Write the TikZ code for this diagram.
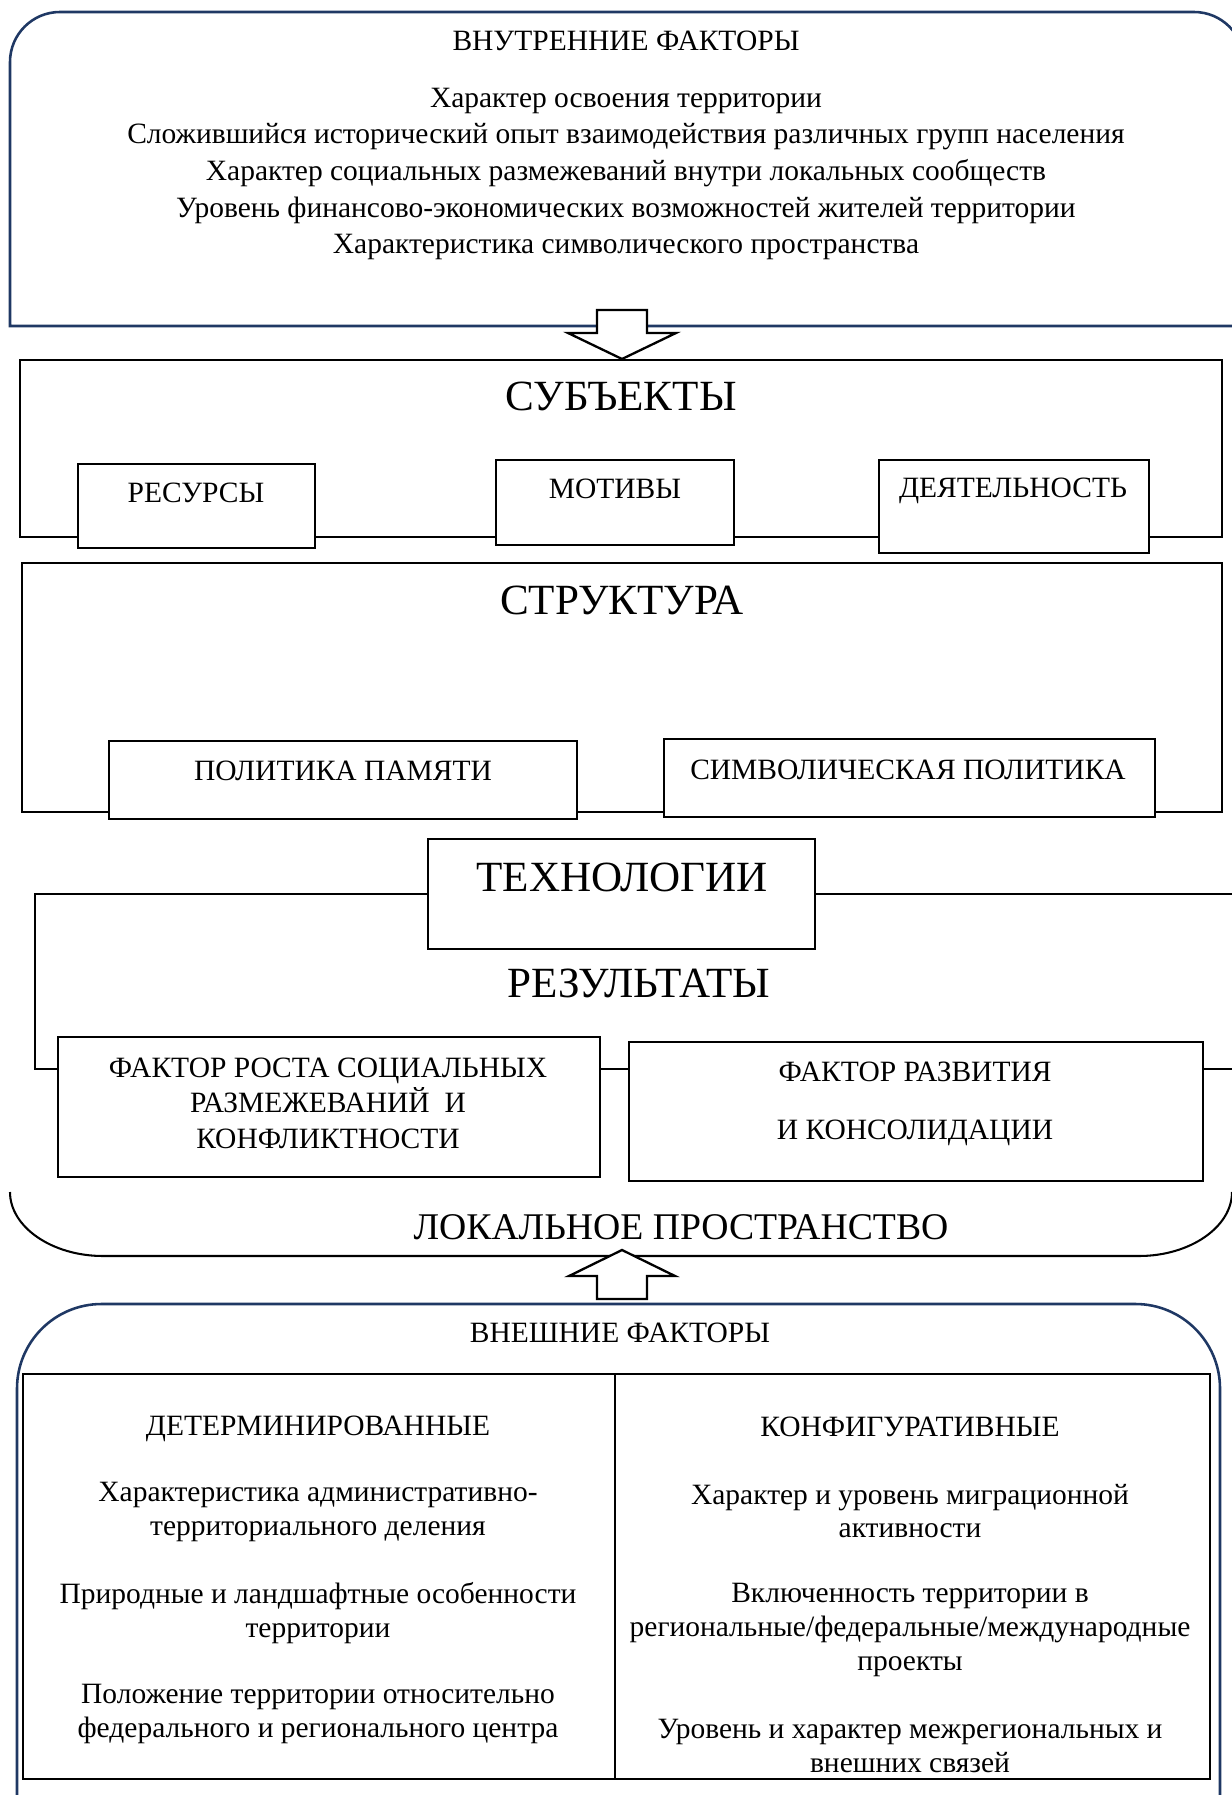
\documentclass[tikz,border=0pt]{standalone}
\usepackage{fontspec}
\setmainfont{Liberation Serif}
\usetikzlibrary{positioning,fit}
\definecolor{navy}{RGB}{31,56,100}

\begin{document}
\begin{tikzpicture}[x=0.39pt, y=-0.39pt,
    frame/.style={draw, line width=1pt, inner sep=0pt},
    box/.style={draw, line width=1pt, fill=white, inner sep=0pt},
    outer/.style={draw=navy, line width=1pt},
    txt/.style={font=\fontsize{11.5}{13.1}\selectfont, align=center, inner sep=0pt},
    toptxt/.style={font=\fontsize{11.5}{14.3}\selectfont, align=center, inner sep=0pt},
    head/.style={font=\fontsize{16.8}{19}\selectfont, inner sep=0pt},
    blockarrow/.style={draw, line width=0.9pt, fill=white, line join=miter}]
    \useasboundingbox (0,0) rectangle (1232,1795);

    % Internal factors
    \draw[outer] (10,326) [rounded corners=19.5pt] -- (10,12) -- (1244,12) [sharp corners] -- (1244,326) -- cycle;
    \node[toptxt] (intitle) at (626,41) {ВНУТРЕННИЕ ФАКТОРЫ};
    \node[toptxt] (inlist) at (626,174) {Характер освоения территории\\
        Сложившийся исторический опыт взаимодействия различных групп населения\\
        Характер социальных размежеваний внутри локальных сообществ\\
        Уровень финансово-экономических возможностей жителей территории\\
        Характеристика символического пространства};

    % Subjects
    \node[frame, fit={(20,360) (1222,537)}] (subj) {};
    \node[head] (subjt) at (621,396) {СУБЪЕКТЫ};
    \node[box, fit={(78,464) (315,548)}] (resbox) {};
    \node[txt] (res) at (196,493) {РЕСУРСЫ};
    \node[box, fit={(496,460) (734,545)}] (motbox) {};
    \node[txt] (mot) at (615,489) {МОТИВЫ};
    \node[box, fit={(879,460) (1149,553)}] (actbox) {};
    \node[txt] (act) at (1013,491) {ДЕЯТЕЛЬНОСТЬ};

    % Arrow in
    \coordinate (intip) at (622,359);
    \draw[blockarrow] (intip) -- ++(-54,-26) -- ++(29,0) -- ++(0,-23) -- ++(50,0) -- ++(0,23) -- ++(29,0) -- cycle;

    % Structure
    \node[frame, fit={(22,563) (1222,812)}] (struct) {};
    \node[head] (structt) at (622,600) {СТРУКТУРА};
    \node[box, fit={(109,741) (577,819)}] (membox) {};
    \node[txt] (mem) at (343,771) {ПОЛИТИКА ПАМЯТИ};
    \node[box, fit={(664,739) (1155,817)}] (symbox) {};
    \node[txt] (sym) at (908,770) {СИМВОЛИЧЕСКАЯ ПОЛИТИКА};

    % Technologies and results
    \node[frame, fit={(35,894) (1250,1069)}] (result) {};
    \node[box, fit={(428,839) (815,949)}] (techbox) {};
    \node[head] (tech) at (622,877) {ТЕХНОЛОГИИ};
    \node[head] (resultt) at (639,983) {РЕЗУЛЬТАТЫ};
    \node[box, fit={(58,1037) (600,1177)}] (confbox) {};
    \node[txt, font=\fontsize{11.5}{13.85}\selectfont] (conf) at (328,1103) {ФАКТОР РОСТА СОЦИАЛЬНЫХ\\
        РАЗМЕЖЕВАНИЙ\ \ И\\ КОНФЛИКТНОСТИ};
    \node[box, fit={(629,1042) (1203,1181)}] (consbox) {};
    \node[txt] (cons) at (915,1104) {ФАКТОР РАЗВИТИЯ\\[9.6pt] И КОНСОЛИДАЦИИ};

    % Local space
    \draw[line width=0.8pt] (10,1192) .. controls (10,1227) and (52,1256) .. (103,1256)
        -- (1139,1256) .. controls (1190,1256) and (1232,1227) .. (1232,1192);
    \node[font=\fontsize{14.7}{16}\selectfont, inner sep=0pt] (local) at (681,1227) {ЛОКАЛЬНОЕ ПРОСТРАНСТВО};

    % Arrow out
    \coordinate (outtip) at (622,1250);
    \draw[blockarrow] (outtip) -- ++(-53,26) -- ++(28,0) -- ++(0,23) -- ++(50,0) -- ++(0,-23) -- ++(28,0) -- cycle;

    % External factors
    \draw[outer, rounded corners=33pt] (17,1830) |- (1220,1304) -- (1220,1830);
    \node[txt] (extitle) at (620,1333) {ВНЕШНИЕ ФАКТОРЫ};
    \node[frame, line width=1.1pt, fit={(23,1374) (1210,1779)}] (tbl) {};
    \coordinate (mid) at (615,1374);
    \draw[line width=0.5pt] (mid) -- (mid |- tbl.south);

    \node[txt] (det) at (318,1429) {ДЕТЕРМИНИРОВАННЫЕ};
    \node[txt] (det1) at (318,1512) {Характеристика административно-\\территориального деления};
    \node[txt] (det2) at (318,1613) {Природные и ландшафтные особенности\\территории};
    \node[txt] (det3) at (318,1714) {Положение территории относительно\\федерального и регионального центра};

    \node[txt] (cfg) at (910,1427) {КОНФИГУРАТИВНЫЕ};
    \node[txt] (cfg1) at (910,1511) {Характер и уровень миграционной\\активности};
    \node[txt] (cfg2) at (910,1630) {Включенность территории в\\региональные/федеральные/международные\\проекты};
    \node[txt] (cfg3) at (910,1746) {Уровень и характер межрегиональных и\\внешних связей};
\end{tikzpicture}
\end{document}
